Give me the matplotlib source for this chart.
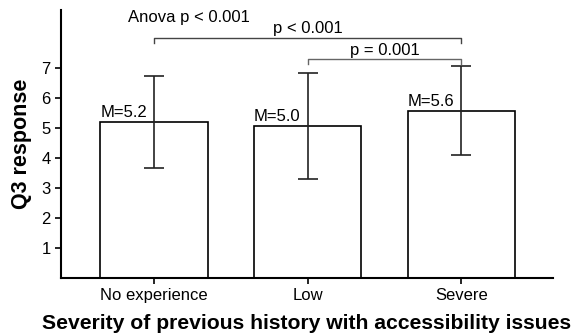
import matplotlib.pyplot as plt
import numpy as np

plt.rc('font', family=['Liberation Sans', 'DejaVu Sans'])

categories = ['No experience', 'Low', 'Severe']
means = [5.18, 5.06, 5.57]
err_low = [3.66, 3.30, 4.08]
err_high = [6.72, 6.81, 7.06]
mean_labels = ['M=5.2', 'M=5.0', 'M=5.6']
yticks = [1, 2, 3, 4, 5, 6, 7]

fig = plt.figure(figsize=(5.73, 3.34), dpi=100)
ax = fig.add_axes([0.1065, 0.1686, 0.8585, 0.8014])

x = np.arange(len(categories))
means = np.asarray(means)
yerr = [means - np.asarray(err_low), np.asarray(err_high) - means]

ax.bar(x, means, width=0.70, color='white', edgecolor='black', linewidth=1.2, zorder=1)
ax.errorbar(x, means, yerr=yerr, fmt='none', ecolor='#222222', elinewidth=1.2,
            capsize=7, capthick=1.2, zorder=2)

for xi, m, lab in zip(x, means, mean_labels):
    ax.text(xi - 0.35, m + 0.06, lab, ha='left', va='bottom', fontsize=12)

# significance brackets
def bracket(x0, x1, y, text, col):
    ax.plot([x0, x0, x1, x1], [y - 0.17, y, y, y - 0.17], color=col, lw=1.0, clip_on=False)
    ax.text((x0 + x1) / 2, y + 0.04, text, ha='center', va='bottom', fontsize=12)

bracket(0, 2, 8.0, 'p < 0.001', '#444444')
bracket(1, 2, 7.29, 'p = 0.001', '#666666')
ax.text(0.23, 8.66, 'Anova p < 0.001', ha='center', va='center', fontsize=12)

ax.set_xlim(-0.605, 2.596)
ax.set_ylim(0, 8.92)
ax.set_xticks(x)
ax.set_xticklabels(categories, fontsize=12)
ax.set_yticks(yticks)
ax.tick_params(axis='y', labelsize=12, length=4, width=1.2)
ax.tick_params(axis='x', length=4, width=1.2)
for s in ['top', 'right']:
    ax.spines[s].set_visible(False)
for s in ['left', 'bottom']:
    ax.spines[s].set_linewidth(1.5)

ax.set_xlabel('Severity of previous history with accessibility issues', fontsize=15.2,
              fontweight='bold', labelpad=8)
ax.set_ylabel('Q3 response', fontsize=15.5, fontweight='bold', labelpad=7)

plt.savefig('out.png', dpi=100)
